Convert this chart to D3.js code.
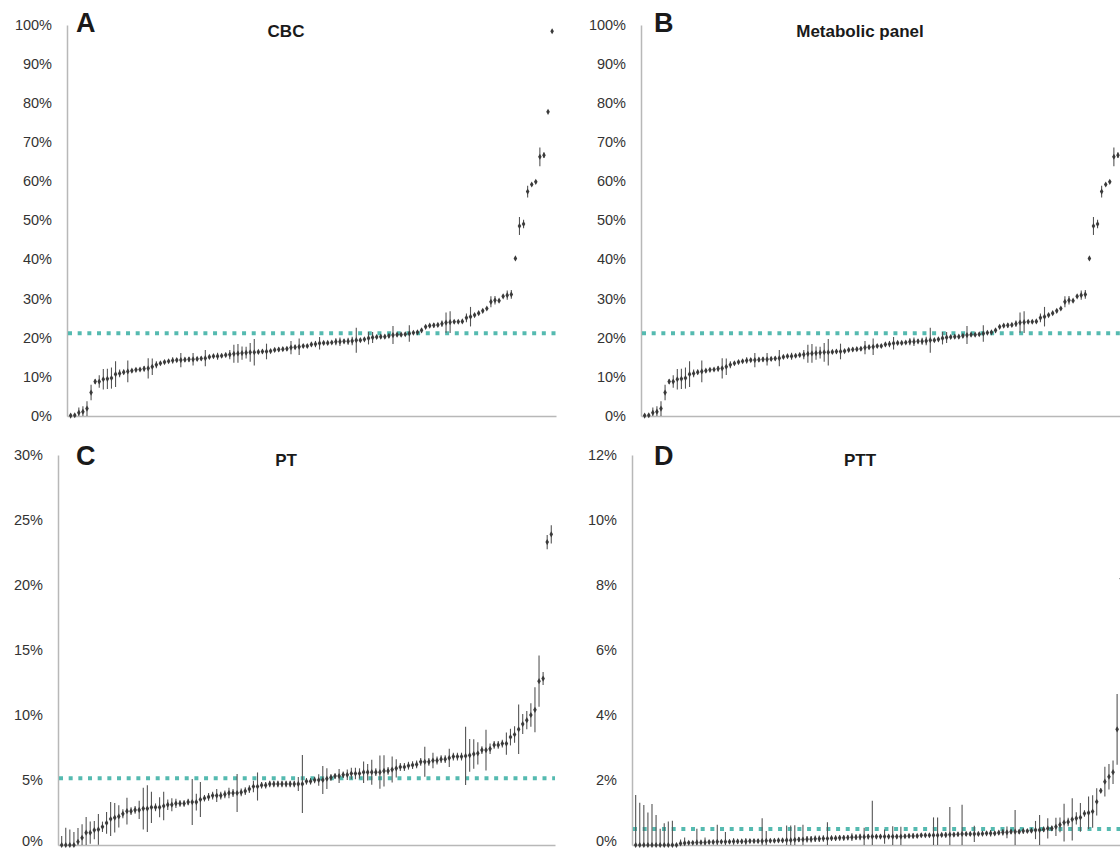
<!DOCTYPE html>
<html><head><meta charset="utf-8">
<script src="https://cdn.jsdelivr.net/npm/d3@7"></script>
<style>
body{margin:0;background:#fff;}
svg{display:block;font-family:"Liberation Sans",Arial,Helvetica,sans-serif;}
</style>
</head><body>
<svg id="chart" width="1120" height="851"></svg>
<script>
// ---------- DATA (percent) ----------
const cbcValues = [0.1,0.2,0.85,1.1,1.9,6.0,8.8,8.8,9.4,9.5,9.7,10.7,10.9,11.2,11.4,11.6,11.8,11.9,12.1,12.2,12.6,13.1,13.5,13.8,14.0,14.2,14.3,14.3,14.4,14.5,14.5,14.6,14.7,14.8,15.1,15.3,15.3,15.4,15.6,
15.7,15.9,16.0,16.1,16.2,16.3,16.3,16.4,16.5,16.5,16.6,16.9,17.0,17.1,17.2,17.5,17.6,17.7,17.9,17.9,18.3,18.4,18.6,18.7,18.7,18.8,19.0,19.0,19.1,19.1,19.2,19.4,19.4,19.6,19.9,20.1,20.2,20.3,20.3,20.5,
20.7,20.8,20.8,20.9,21.1,21.3,21.4,21.9,22.8,23.1,23.2,23.3,23.6,23.9,24.0,24.1,24.1,24.2,25.1,25.4,25.8,26.3,26.9,27.5,29.2,29.6,29.5,30.6,30.9,31.1,40.3,48.6,49.1,57.4,59.2,59.9,66.3,66.7,77.8,98.4];
const cbcErrors = [0.2,0.3,1.3,1.4,1.9,2.0,0.6,1.6,2.6,2.6,2.7,3.3,1.0,0.6,2.8,0.4,0.3,0.3,0.7,2.6,2.1,0.9,0.5,0.5,0.4,0.8,0.5,1.8,0.5,0.6,1.6,0.5,0.5,2.1,0.5,0.5,0.9,0.5,0.6,
1.2,2.3,2.4,1.7,1.5,2.4,3.4,0.5,0.6,2.0,0.4,0.4,0.5,0.5,0.5,1.7,0.5,2.1,0.5,0.5,0.5,0.8,1.6,0.5,0.4,0.4,0.9,1.1,0.5,0.9,1.1,3.2,0.5,0.5,1.6,1.4,0.5,0.5,0.5,0.5,
2.3,0.4,0.4,0.4,2.1,0.4,0.4,0.6,0.4,0.4,0.6,0.4,0.8,2.6,2.8,0.4,0.4,0.4,1.1,2.5,0.4,0.4,0.4,0.4,1.4,1.1,0.4,0.4,1.2,1.1,0.3,2.3,1.1,1.5,0.4,0.4,2.4,0.7,0.3,0.3];
const cbcReference = 21.15;

const metabolicValues = cbcValues.slice();
const metabolicErrors = cbcErrors.slice();
const metabolicReference = 21.15;

const ptValues = [0,0,0,0,0.25,0.56,0.95,0.95,1.15,1.2,
1.4,1.7,2.0,2.1,2.2,2.4,2.6,2.6,2.7,2.7,
2.8,2.8,2.9,2.9,2.9,3.0,3.1,3.1,3.2,3.2,
3.2,3.3,3.3,3.3,3.5,3.6,3.7,3.8,3.8,3.8,
3.9,4.0,4.0,4.0,4.05,4.15,4.3,4.5,4.5,4.6,
4.6,4.7,4.7,4.7,4.7,4.7,4.7,4.7,4.7,4.7,
4.9,4.9,5.0,5.0,5.0,5.1,5.2,5.3,5.3,5.4,
5.4,5.5,5.5,5.5,5.6,5.6,5.6,5.6,5.6,5.7,
5.7,5.8,5.9,6.0,6.0,6.1,6.15,6.2,6.4,6.4,
6.4,6.5,6.5,6.6,6.6,6.7,6.8,6.8,6.8,6.85,
6.9,7.0,7.05,7.3,7.3,7.4,7.7,7.7,7.8,7.8,
8.3,8.5,8.9,9.3,9.6,10.0,10.4,12.6,12.8,23.3,
23.9];
const ptErrors = [0.7,1.33,1.2,1.0,1.05,1.04,1.2,0.86,0.7,1.18,
0.4,0.83,1.3,1.13,0.86,0.35,1.03,0.3,0.3,0.7,
1.6,1.8,1.2,0.3,0.77,1.1,0.4,0.5,0.35,0.25,
0.25,0.25,1.77,0.64,1.35,0.25,0.3,0.3,0.5,0.3,
0.3,0.4,0.3,1.47,0.3,0.3,0.3,0.45,1.08,0.25,
0.25,0.25,0.25,0.25,0.25,0.25,0.25,0.25,0.54,2.23,
0.25,0.25,0.25,0.45,1.08,0.8,0.25,0.2,0.54,0.25,
0.4,0.45,0.45,0.4,0.83,0.64,0.96,0.3,1.28,1.2,
0.3,1.0,0.7,0.3,0.3,0.3,0.3,0.3,0.3,1.15,
0.3,0.6,0.3,0.3,0.3,0.7,0.3,0.3,0.3,2.24,
1.26,1.13,0.86,0.3,1.56,0.4,0.3,0.3,0.3,0.86,
0.64,0.64,1.9,0.77,0.7,0.9,1.73,1.97,0.5,0.55,
0.7];
const ptReference = 5.13;

const pttValues = [0,0,0,0,0,0,0,0,0,0,0,
0.05,0.06,0.07,0.07,0.08,0.08,0.08,0.09,0.09,0.10,0.10,0.10,0.10,0.11,0.11,0.11,0.11,0.12,0.12,0.12,
0.12,0.13,0.13,0.13,0.14,0.14,0.15,0.15,0.16,0.17,0.17,0.18,0.18,0.19,0.19,0.20,0.20,0.21,0.21,0.22,
0.22,0.23,0.24,0.24,0.25,0.25,0.26,
0.26,0.26,0.26,0.26,0.26,0.26,0.26,0.26,0.27,0.28,0.28,0.28,0.30,0.30,0.30,0.30,0.30,0.31,0.31,0.32,
0.32,0.33,0.34,0.34,0.34,0.34,0.34,0.35,0.36,0.36,0.36,0.38,0.39,0.39,0.41,0.41,0.41,0.43,0.43,0.44,
0.46,0.46,0.48,0.51,0.51,0.56,0.62,0.69,0.71,0.79,0.82,0.85,0.97,0.99,1.03,1.33,1.67,1.95,2.10,2.24,
3.56,8.2];
const pttErrors = [1.54,1.30,1.23,1.0,1.26,0.92,0.5,0.67,0.72,0.75,
0,0.12,0.17,0.05,0.05,0.42,0.05,0.15,0.05,0.05,
0.52,0.05,0.3,0.06,0.1,0.06,0.06,0.1,0.06,0.06,
0.06,0.7,0.3,0.06,0.06,0.06,0.06,0.45,0.45,0.45,
0.08,0.45,0.1,0.1,0.1,0.1,0.1,0.5,0.08,0.08,
0.08,0.08,0.08,0.12,0.08,0.1,0.28,0.08,1.1,0.06,
0.06,0.22,0.06,0.32,0.06,0.3,0.06,0.06,0.08,0.06,
0.06,0.06,0.06,0.55,0.55,0.06,0.08,0.85,0.06,0.06,
0.9,0.06,0.06,0.25,0.06,0.08,0.06,0.1,0.06,0.06,
0.1,0.18,0.06,0.67,0.06,0.08,0.06,0.06,0.28,0.46,
0.08,0.31,0.08,0.28,0.23,0.58,0.13,0.65,0.19,0.44,
0.1,0.5,0.5,0.42,0.08,0.46,0.39,0.36,1.09,0.1];
const pttReference = 0.49;

const panelLetters = ["A","B","C","D"];
const panelTitles = ["CBC","Metabolic panel","PT","PTT"];
const yMaxima = [100,100,30,12];
const yTickSteps = [10,10,5,2];

// ---------- LAYOUT ----------
const STEP = 4.08;
const layouts = [
  {axisX:67,  top:25,  bottom:416, xEnd:556,  titleX:286, letterX:76,  letterY:32, titleY:37},
  {axisX:641, top:25,  bottom:416, xEnd:1130, titleX:860, letterX:654, letterY:32, titleY:37},
  {axisX:58,  top:455, bottom:845, xEnd:555,  titleX:286, letterX:76,  letterY:465, titleY:466},
  {axisX:632, top:455, bottom:845, xEnd:1130, titleX:860, letterX:654, letterY:465, titleY:466}
];
const series = [
  {values:cbcValues, errors:cbcErrors, ref:cbcReference},
  {values:metabolicValues, errors:metabolicErrors, ref:metabolicReference},
  {values:ptValues, errors:ptErrors, ref:ptReference},
  {values:pttValues, errors:pttErrors, ref:pttReference}
];

const svg = d3.select("#chart");
const TEAL = "#55bab0";
const H = 851;

series.forEach((s, p) => {
  const L = layouts[p];
  const N = s.values.length;
  const g = svg.append("g");
  const x = d3.scaleLinear().domain([-0.9, N - 0.1]).range([L.axisX, L.axisX + (N + 0.8) * STEP]);
  const y = d3.scaleLinear().domain([0, yMaxima[p]]).range([L.bottom, L.top]);

  // y axis
  const ticks = d3.range(0, yMaxima[p] + 0.001, yTickSteps[p]);
  const ya = g.append("g").attr("transform", `translate(${L.axisX},0)`)
    .call(d3.axisLeft(y).tickValues(ticks).tickSize(0).tickSizeOuter(0).tickPadding(15).tickFormat(d => d + "%"));
  ya.select(".domain").attr("stroke", "#b8b8b8").attr("stroke-width", 1.5);
  ya.selectAll("text").attr("font-size", 14.5).attr("fill", "#333")
    .attr("dy", d => (H - y(d) < 8 ? "0.05em" : "0.3em"))
    .attr("font-family", '"Liberation Sans",Arial,sans-serif');

  // x axis (no ticks)
  const xa = g.append("g").attr("transform", `translate(0,${L.bottom})`)
    .call(d3.axisBottom(d3.scaleLinear().range([L.axisX, L.xEnd])).tickValues([]).tickSizeOuter(0));
  xa.select(".domain").attr("stroke", "#b8b8b8").attr("stroke-width", 1.5);

  // reference dashed line
  g.append("line")
    .attr("x1", L.axisX + 1).attr("x2", L.xEnd)
    .attr("y1", y(s.ref)).attr("y2", y(s.ref))
    .attr("stroke", TEAL).attr("stroke-width", 4)
    .attr("stroke-dasharray", "4,5.67");

  const data = s.values.map((v, i) => ({i, v, e: s.errors[i]}));

  // error bars
  g.selectAll("line.err").data(data.filter(d => d.e > 0)).enter().append("line")
    .attr("class", "err")
    .attr("x1", d => x(d.i)).attr("x2", d => x(d.i))
    .attr("y1", d => y(Math.max(0, d.v - d.e))).attr("y2", d => y(d.v + d.e))
    .attr("stroke", "#555").attr("stroke-width", 1.1);

  // points
  g.selectAll("path.pt").data(data).enter().append("path")
    .attr("class", "pt")
    .attr("transform", d => `translate(${x(d.i)},${y(d.v)})`)
    .attr("d", d3.symbol(d3.symbolDiamond, 11))
    .attr("fill", "#3a3a3a");

  // letter and title
  g.append("text").attr("x", L.letterX).attr("y", L.letterY)
    .attr("font-size", 27).attr("font-weight", "bold").attr("fill", "#1a1a1a")
    .text(panelLetters[p]);
  g.append("text").attr("x", L.titleX).attr("y", L.titleY).attr("text-anchor", "middle")
    .attr("font-size", 17).attr("font-weight", "bold").attr("fill", "#1a1a1a")
    .text(panelTitles[p]);
});
</script>
</body></html>
